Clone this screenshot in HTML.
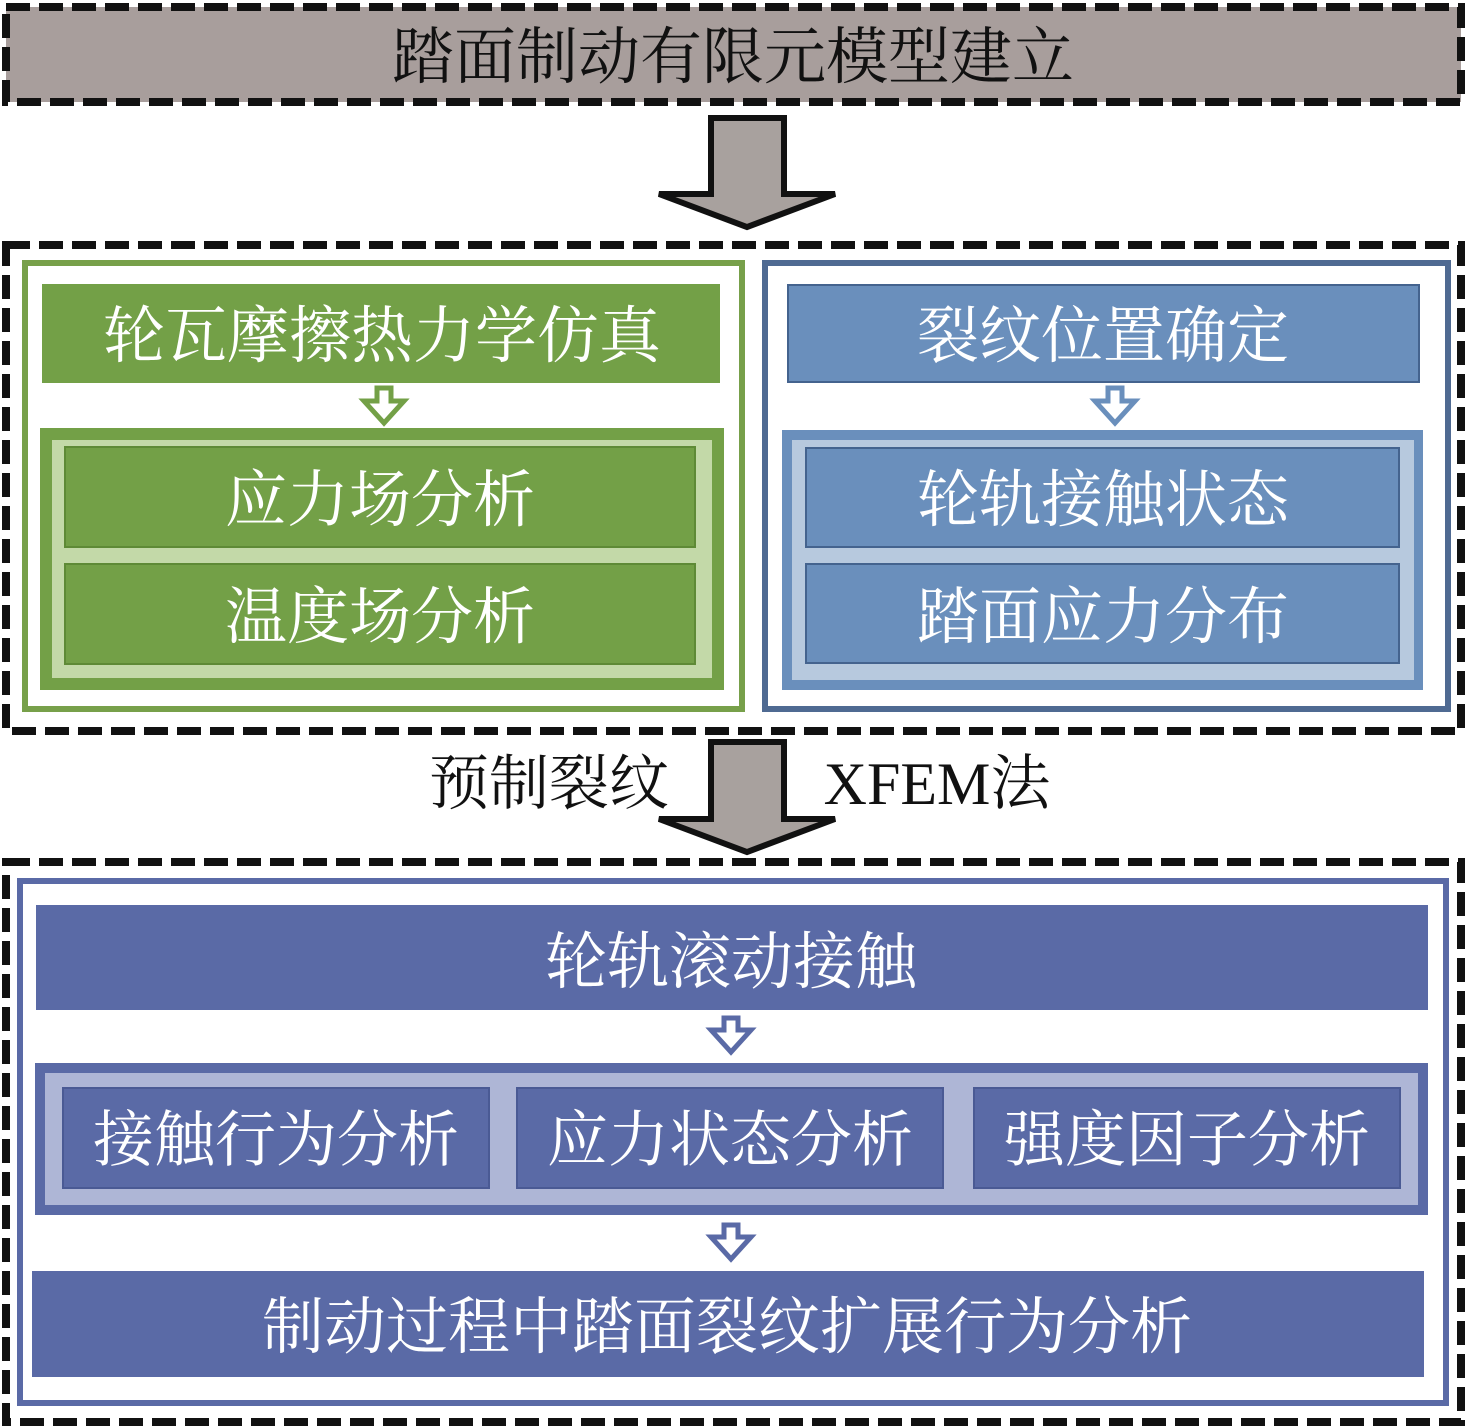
<!DOCTYPE html>
<html><head><meta charset="utf-8"><style>
html,body{margin:0;padding:0;background:#fff;}
svg{display:block;}
text{font-family:"Liberation Serif","Noto Serif CJK SC",serif;text-anchor:middle;dominant-baseline:central;}
</style></head><body>
<svg width="1469" height="1427" viewBox="0 0 1469 1427" xmlns="http://www.w3.org/2000/svg">
<!-- top box -->
<rect x="6" y="7" width="1455" height="95" fill="#a89e9c" stroke="#111" stroke-width="8" stroke-dasharray="24 9"/>
<text x="733" y="58" font-size="62" fill="#111">踏面制动有限元模型建立</text>
<!-- arrow1 -->
<polygon points="711,118 784,118 784,194 835,194 747,227 659,194 711,194" fill="#a8a19e" stroke="#111" stroke-width="6" stroke-linejoin="miter"/>
<!-- middle dashed -->
<rect x="6" y="245" width="1455" height="486" fill="#fff" stroke="#111" stroke-width="8" stroke-dasharray="24 9"/>
<!-- green -->
<rect x="25" y="263" width="717" height="446" fill="#fff" stroke="#77a04a" stroke-width="6"/>
<rect x="42" y="284" width="678" height="99" fill="#73a047"/>
<text x="382" y="337" font-size="62" fill="#fff">轮瓦摩擦热力学仿真</text>
<polygon points="377,388 391,388 391,401 404,401 384,423 364,401 377,401" fill="#fff" stroke="#73a047" stroke-width="5"/>
<rect x="40" y="428" width="684" height="262" fill="#73a047"/>
<rect x="52" y="440" width="660" height="238" fill="#c3d9a8"/>
<rect x="65" y="447" width="630" height="100" fill="#73a047" stroke="#5e8a36" stroke-width="2"/>
<rect x="65" y="564" width="630" height="100" fill="#73a047" stroke="#5e8a36" stroke-width="2"/>
<text x="380" y="501" font-size="62" fill="#fff">应力场分析</text>
<text x="380" y="618" font-size="62" fill="#fff">温度场分析</text>
<!-- blue right -->
<rect x="765" y="263" width="683" height="446" fill="#fff" stroke="#4f6a92" stroke-width="6"/>
<rect x="788" y="285" width="631" height="97" fill="#6a8fbc" stroke="#44638e" stroke-width="2"/>
<text x="1103" y="337" font-size="62" fill="#fff">裂纹位置确定</text>
<polygon points="1108,388 1122,388 1122,401 1135,401 1115,423 1095,401 1108,401" fill="#fff" stroke="#6a8fbc" stroke-width="5"/>
<rect x="782" y="430" width="641" height="260" fill="#6a8fbc"/>
<rect x="792" y="440" width="622" height="240" fill="#b7c9de"/>
<rect x="806" y="448" width="593" height="99" fill="#6a8fbc" stroke="#44638e" stroke-width="2"/>
<rect x="806" y="564" width="593" height="99" fill="#6a8fbc" stroke="#44638e" stroke-width="2"/>
<text x="1103" y="501" font-size="62" fill="#fff">轮轨接触状态</text>
<text x="1103" y="618" font-size="62" fill="#fff">踏面应力分布</text>
<!-- arrow2 -->
<polygon points="711,742 784,742 784,819 835,819 747,852 659,819 711,819" fill="#a8a19e" stroke="#111" stroke-width="6"/>
<text x="549" y="784" font-size="60" fill="#111">预制裂纹</text>
<text x="937" y="784" font-size="60" fill="#111">XFEM法</text>
<!-- bottom dashed -->
<rect x="6" y="862" width="1455" height="560" fill="#fff" stroke="#111" stroke-width="8" stroke-dasharray="24 9"/>
<rect x="20" y="881" width="1426" height="522" fill="#fff" stroke="#5a6aa6" stroke-width="6"/>
<rect x="36" y="905" width="1392" height="105" fill="#5a6aa6"/>
<text x="731" y="963" font-size="62" fill="#fff">轮轨滚动接触</text>
<polygon points="724,1018 738,1018 738,1030 751,1030 731,1052 711,1030 724,1030" fill="#fff" stroke="#5a6aa6" stroke-width="5"/>
<rect x="35" y="1063" width="1393" height="152" fill="#5a6aa6"/>
<rect x="45" y="1073" width="1373" height="132" fill="#aeb6d6"/>
<rect x="63" y="1088" width="426" height="100" fill="#5a6aa6" stroke="#4a5a94" stroke-width="2"/>
<rect x="517" y="1088" width="426" height="100" fill="#5a6aa6" stroke="#4a5a94" stroke-width="2"/>
<rect x="974" y="1088" width="426" height="100" fill="#5a6aa6" stroke="#4a5a94" stroke-width="2"/>
<text x="276" y="1141" font-size="61" fill="#fff">接触行为分析</text>
<text x="730" y="1141" font-size="61" fill="#fff">应力状态分析</text>
<text x="1187" y="1141" font-size="61" fill="#fff">强度因子分析</text>
<polygon points="724,1225 738,1225 738,1237 751,1237 731,1259 711,1237 724,1237" fill="#fff" stroke="#5a6aa6" stroke-width="5"/>
<rect x="32" y="1271" width="1392" height="106" fill="#5a6aa6"/>
<text x="727" y="1328" font-size="62" fill="#fff">制动过程中踏面裂纹扩展行为分析</text>
</svg>
</body></html>
